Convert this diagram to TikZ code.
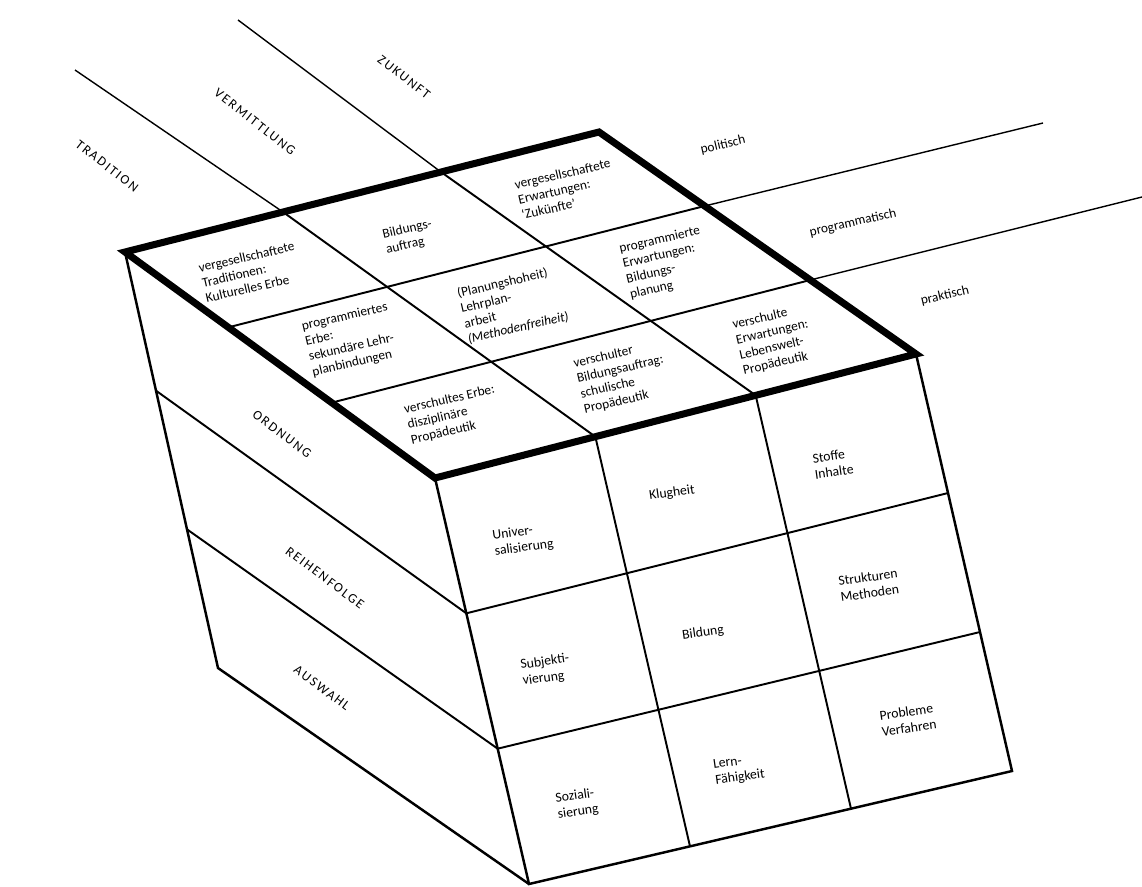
\documentclass[tikz,border=0pt]{standalone}
\usepackage{fontspec}
\setmainfont{Carlito}
\usetikzlibrary{calc}
\begin{document}
\begin{tikzpicture}[x=0.02cm,y=-0.02cm,
  thinline/.style={line width=0.8pt},
  gridline/.style={line width=1.1pt},
  faceline/.style={line width=1.4pt},
  outline/.style={line width=4pt, line join=miter},
  cell/.style={font=\fontsize{7.6}{8.9}\selectfont, align=left, inner sep=0pt, rotate=13},
  fcell/.style={font=\fontsize{7.8}{9.2}\selectfont, align=left, inner sep=0pt, rotate=8},
  dimlabel/.style={font=\fontsize{7.6}{9}\selectfont\addfontfeature{LetterSpace=14}, inner sep=0pt},
  sidelabel/.style={font=\fontsize{7.6}{9}\selectfont, inner sep=0pt, rotate=13}]
\useasboundingbox (0,0) rectangle (1142,886);
\fill[white] (0,0) rectangle (1142,886);
% corners
\coordinate (A) at (125,252);
\coordinate (B) at (599,132);
\coordinate (C) at (916,354);
\coordinate (D) at (435,478);
\coordinate (E) at (529,884);
\coordinate (F) at (1012,771);
\coordinate (G) at (218,668);
% division points
\coordinate (ab1) at ($(A)!1/3!(B)$);
\coordinate (ab2) at ($(A)!2/3!(B)$);
\coordinate (dc1) at ($(D)!1/3!(C)$);
\coordinate (dc2) at ($(D)!2/3!(C)$);
\coordinate (ad1) at ($(A)!1/3!(D)$);
\coordinate (ad2) at ($(A)!2/3!(D)$);
\coordinate (bc1) at ($(B)!1/3!(C)$);
\coordinate (bc2) at ($(B)!2/3!(C)$);
\coordinate (ef1) at ($(E)!1/3!(F)$);
\coordinate (ef2) at ($(E)!2/3!(F)$);
\coordinate (de1) at ($(D)!1/3!(E)$);
\coordinate (de2) at ($(D)!2/3!(E)$);
\coordinate (cf1) at ($(C)!1/3!(F)$);
\coordinate (cf2) at ($(C)!2/3!(F)$);
\coordinate (ag1) at ($(A)!1/3!(G)$);
\coordinate (ag2) at ($(A)!2/3!(G)$);
% free ends of the extension lines
\coordinate (t1) at (75,70);
\coordinate (t2) at (238,20);
\coordinate (p1) at (1043,123);
\coordinate (p2) at (1142,197);
% extension lines
\draw[thinline] (t1) -- (ab1);
\draw[thinline] (t2) -- (ab2);
\draw[thinline] (bc1) -- (p1);
\draw[thinline] (bc2) -- (p2);
% top face grid
\draw[gridline] (ab1) -- (dc1);
\draw[gridline] (ab2) -- (dc2);
\draw[gridline] (ad1) -- (bc1);
\draw[gridline] (ad2) -- (bc2);
% front face
\draw[faceline] (D) -- (E) -- (F) -- (C);
\draw[gridline] (dc1) -- (ef1);
\draw[gridline] (dc2) -- (ef2);
\draw[gridline] (de1) -- (cf1);
\draw[gridline] (de2) -- (cf2);
% left face
\draw[faceline] (A) -- (G) -- (E);
\draw[gridline] (ag1) -- (de1);
\draw[gridline] (ag2) -- (de2);
% top outline
\draw[outline] (A) -- (B) -- (C) -- (D) -- cycle;
% dimension labels
\node[dimlabel, rotate=-38] (trad) at (107,166) {TRADITION};
\node[dimlabel, rotate=-38] (verm) at (255,122) {VERMITTLUNG};
\node[dimlabel, rotate=-38] (zuk) at (404,77) {ZUKUNFT};
\node[sidelabel] (pol) at (723,145) {politisch};
\node[sidelabel] (prog) at (853,223) {programmatisch};
\node[sidelabel] (prak) at (945,296) {praktisch};
\node[dimlabel, rotate=-37] (ord) at (282,434) {ORDNUNG};
\node[dimlabel, rotate=-37] (reih) at (325,578) {REIHENFOLGE};
\node[dimlabel, rotate=-37] (ausw) at (322,688) {AUSWAHL};
% top face cells
\node[cell] (c00) at (250,272) {vergesellschaftete\\Traditionen:\\Kulturelles Erbe};
\node[cell] (c10) at (409,237) {Bildungs-\\auftrag};
\node[cell] (c20) at (566,189) {vergesellschaftete\\Erwartungen:\\`Zukünfte'};
\node[cell] (c01) at (350,340) {programmiertes\\Erbe:\\sekundäre Lehr-\\planbindungen};
\node[cell] (c11) at (513,305) {(Planungshoheit)\\Lehrplan-\\arbeit\\{\itshape(Methodenfreiheit)}};
\node[cell] (c21) at (665,263) {programmierte\\Erwartungen:\\Bildungs-\\planung};
\node[cell] (c02) at (453,415) {verschultes Erbe:\\disziplinäre\\Propädeutik};
\node[cell] (c12) at (622,377) {verschulter\\Bildungsauftrag:\\schulische\\Propädeutik};
\node[cell] (c22) at (774,340) {verschulte\\Erwartungen:\\Lebenswelt-\\Propädeutik};
% front face cells
\node[fcell] (f00) at (523,540) {Univer-\\salisierung};
\node[fcell] (f10) at (672,493) {Klugheit};
\node[fcell] (f20) at (833,464) {Stoffe\\Inhalte};
\node[fcell] (f01) at (546,670) {Subjekti-\\vierung};
\node[fcell] (f11) at (703,633) {Bildung};
\node[fcell] (f21) at (869,585) {Strukturen\\Methoden};
\node[fcell] (f02) at (577,804) {Soziali-\\sierung};
\node[fcell] (f12) at (739,770) {Lern-\\Fähigkeit};
\node[fcell] (f22) at (908,720) {Probleme\\Verfahren};
\end{tikzpicture}
\end{document}
